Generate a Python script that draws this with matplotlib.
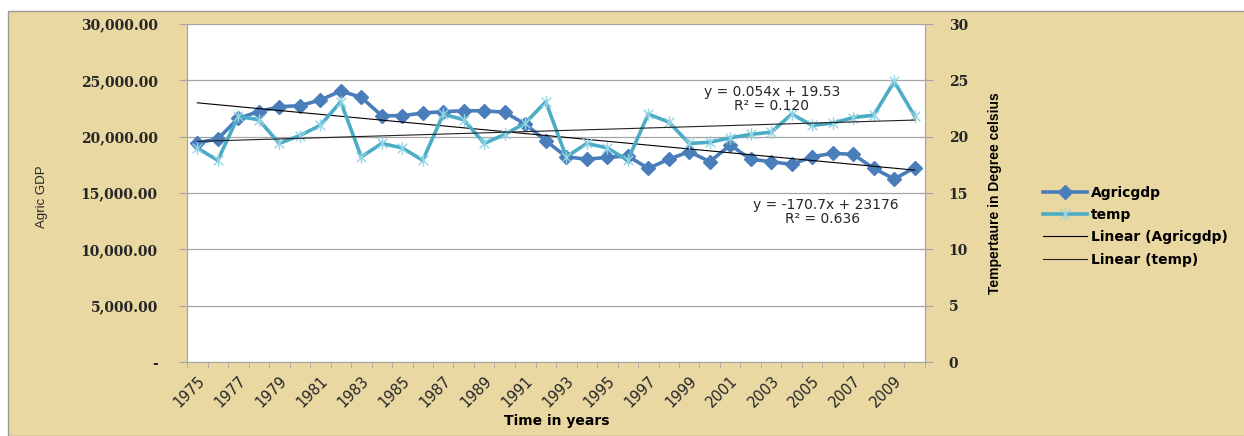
import matplotlib.pyplot as plt
import numpy as np
from matplotlib.patches import Rectangle
from matplotlib.path import Path
from matplotlib.ticker import FuncFormatter

# Agricultural GDP and mean temperature, 1975-2010
years = list(range(1975, 2011))
agric_gdp = [19460, 19790, 21630, 22220, 22660, 22750, 23250, 24050, 23490, 21860,
             21860, 22100, 22220, 22300, 22300, 22160, 21120, 19640, 18220, 17990,
             18170, 18280, 17190, 17990, 18670, 17780, 19260, 17990, 17780, 17540,
             18220, 18520, 18430, 17190, 16240, 17250]
temp = [19.0, 17.9, 21.8, 21.5, 19.4, 20.1, 21.0, 23.1, 18.2, 19.4,
        19.0, 17.9, 22.0, 21.5, 19.4, 20.2, 21.2, 23.1, 18.2, 19.4,
        19.0, 17.9, 22.0, 21.3, 19.4, 19.5, 19.9, 20.2, 20.4, 22.0,
        21.0, 21.2, 21.7, 21.9, 24.9, 21.8]

# linear trend coefficients (x = 1 .. n)
agric_slope, agric_intercept, agric_r2 = -170.7, 23176, 0.636
temp_slope, temp_intercept, temp_r2 = 0.054, 19.53, 0.120

BLUE = '#4A7EBB'
TEAL = '#4BACC6'
TAN = '#EAD8A3'
GRID = '#A6A6A6'
TXT = '#262626'


def star_marker():
    verts = [(-1, -1), (1, 1), (-1, 1), (1, -1), (0, -1.3), (0, 1.3)]
    codes = [Path.MOVETO, Path.LINETO] * 3
    return Path(verts, codes)


def main():
    W, H = 1244, 436
    fig = plt.figure(figsize=(W / 100, H / 100), dpi=100, facecolor='white')

    # tan backdrop behind the chart
    fig.patches.append(Rectangle((8 / W, 0), 1, (H - 11) / H, transform=fig.transFigure,
                                 facecolor=TAN, edgecolor='#9A9A9A', linewidth=1.0, zorder=-5))

    ax = fig.add_axes([187 / W, 1 - 362 / H, (925 - 187) / W, (362 - 24) / H])
    ax.set_facecolor('white')
    ax2 = ax.twinx()

    x = np.arange(len(years))
    xt = x + 1

    ax.plot(x, agric_gdp, color=BLUE, lw=2.6, marker='D', ms=7.5, mfc=BLUE, mec=BLUE,
            label='Agricgdp', zorder=3)
    ax2.plot(x, temp, color=TEAL, lw=2.6, marker=star_marker(), ms=9, mec='#93D3E3',
             mew=1.0, label='temp', zorder=3)

    agric_fit = agric_slope * xt + agric_intercept
    temp_fit = temp_slope * xt + temp_intercept
    ax.plot(x, agric_fit, color='black', lw=0.8, label='Linear (Agricgdp)', zorder=4)
    ax2.plot(x, temp_fit, color='#222222', lw=0.8, label='Linear (temp)', zorder=4)

    # left axis
    ax.set_ylim(0, 30000)
    ax.set_yticks(np.arange(0, 30001, 5000))
    ax.yaxis.set_major_formatter(FuncFormatter(lambda v, p: '-' if v == 0 else f'{v:,.2f}'))
    ax.grid(axis='y', color=GRID, lw=0.9)
    ax.set_axisbelow(True)
    ax.tick_params(axis='y', length=6, pad=15, color=GRID, labelcolor=TXT)
    for lab in ax.get_yticklabels():
        lab.set_fontfamily('DejaVu Serif')
        lab.set_fontweight('bold')
        lab.set_fontsize(10)

    # right axis
    ax2.set_ylim(0, 30)
    ax2.set_yticks(np.arange(0, 31, 5))
    ax2.tick_params(axis='y', length=6, pad=11, color=GRID, labelcolor=TXT)
    for lab in ax2.get_yticklabels():
        lab.set_fontfamily('DejaVu Serif')
        lab.set_fontweight('bold')
        lab.set_fontsize(10)

    # category axis: labels every other year, ticks between categories
    ax.set_xlim(-0.5, len(years) - 0.5)
    ax.set_xticks(x[::2])
    ax.set_xticklabels([str(y) for y in years[::2]], rotation=45, ha='right',
                       rotation_mode='anchor', fontsize=10.5, color=TXT)
    ax.tick_params(axis='x', length=0, pad=8)
    ax.set_xticks(np.arange(-0.5, len(years), 1), minor=True)
    ax.tick_params(axis='x', which='minor', length=4, color=GRID)

    for a in (ax, ax2):
        for s in a.spines.values():
            s.set_color(GRID)
        a.spines['top'].set_visible(False)

    fig.text(42 / W, 1 - 197 / H, 'Agric GDP', rotation=90, ha='center', va='center',
             fontsize=9.5, color=TXT, family=['Liberation Sans Narrow', 'Liberation Sans'])
    fig.text(995 / W, 1 - 193 / H, 'Tempertaure in Degree celsius', rotation=90,
             ha='center', va='center', fontsize=10, fontweight='bold', color='black',
             family=['Liberation Sans Narrow', 'Liberation Sans'])
    fig.text(557 / W, 1 - 421 / H, 'Time in years', ha='center', va='center',
             fontsize=10, fontweight='bold', color='black')

    # trendline equations
    fig.text(772 / W, 1 - 92 / H, f'y = {temp_slope}x + {temp_intercept}', ha='center',
             va='center', fontsize=10, color=TXT)
    fig.text(772 / W, 1 - 106 / H, f'R² = {temp_r2:.3f}', ha='center', va='center',
             fontsize=10, color=TXT)
    fig.text(826 / W, 1 - 205 / H, f'y = {agric_slope}x + {agric_intercept}', ha='center',
             va='center', fontsize=10, color=TXT)
    fig.text(823 / W, 1 - 219 / H, f'R² = {agric_r2:.3f}', ha='center', va='center',
             fontsize=10, color=TXT)

    h1, l1 = ax.get_legend_handles_labels()
    h2, l2 = ax2.get_legend_handles_labels()
    handles = [h1[0], h2[0], h1[1], h2[1]]
    labels = [l1[0], l2[0], l1[1], l2[1]]
    fig.legend(handles, labels, loc='center left', bbox_to_anchor=(1030 / W, 1 - 226 / H),
               frameon=False, handlelength=3.2, labelspacing=0.6,
               handletextpad=0.3, prop={'weight': 'bold', 'size': 10})

    fig.savefig('out.png', dpi=100, facecolor='white')


if __name__ == '__main__':
    main()
